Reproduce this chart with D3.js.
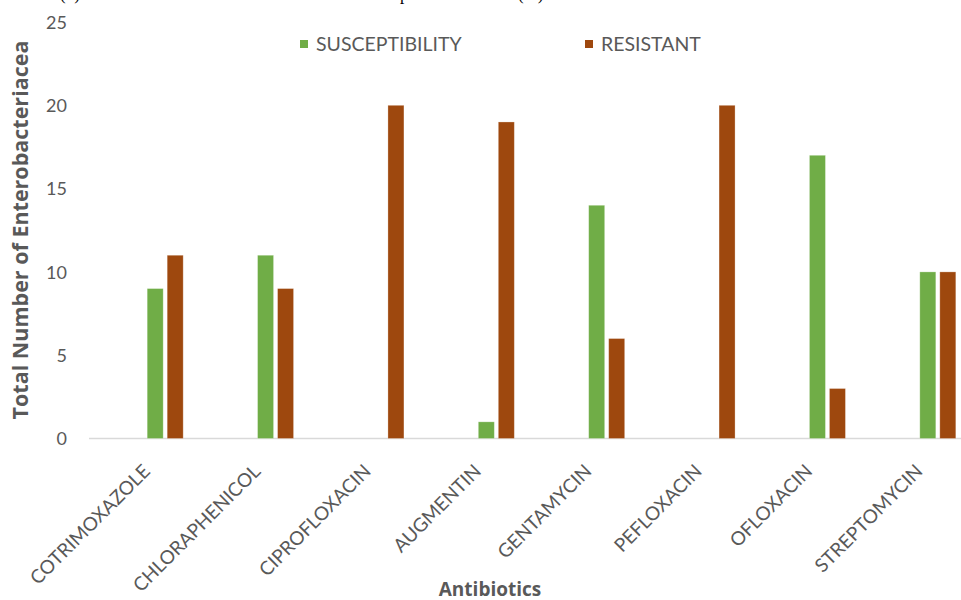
<!DOCTYPE html>
<html>
<head>
<meta charset="utf-8">
<script src="https://cdn.jsdelivr.net/npm/d3@7"></script>
<style>
  html, body { margin: 0; padding: 0; background: #fff; }
  svg { display: block; }
  .lbl { font-family: Lato, "Open Sans", sans-serif; fill: #595959; }
  .ttl { font-family: "Open Sans", Lato, sans-serif; font-weight: 700; fill: #595959; }
  .cap { font-family: "Liberation Serif", "DejaVu Serif", serif; fill: #000; }
</style>
</head>
<body>
<svg id="chart" width="961" height="600"></svg>
<script>
// Antibiotic susceptibility of Enterobacteriaceae isolates
const antibiotics = ["COTRIMOXAZOLE", "CHLORAPHENICOL", "CIPROFLOXACIN", "AUGMENTIN",
                     "GENTAMYCIN", "PEFLOXACIN", "OFLOXACIN", "STREPTOMYCIN"];
const susceptibility = [9, 11, 0, 1, 14, 0, 17, 10];
const resistant      = [11, 9, 20, 19, 6, 20, 3, 10];
const seriesNames = ["SUSCEPTIBILITY", "RESISTANT"];
const seriesColors = ["#70AD47", "#9E480E"];
const yTicks = [0, 5, 10, 15, 20, 25];

const svg = d3.select("#chart");
const W = 961;

const x = d3.scaleBand().domain(antibiotics).range([110, 993]);
const xInner = d3.scaleBand().domain(seriesNames).range([-18, 18]).paddingInner(0.2);
const y = d3.scaleLinear().domain([0, 25]).range([438.5, 22]);

// Caption line above the chart (only its lower edge is in view)
svg.append("text").attr("class", "cap").attr("x", 60).attr("y", 0)
  .attr("font-size", 17).text("(b)");
svg.append("text").attr("class", "cap").attr("x", 400).attr("y", 0)
  .attr("font-size", 17).text("pattern");
svg.append("text").attr("class", "cap").attr("x", 518).attr("y", 0)
  .attr("font-size", 17).text("(%)");

// Y axis tick labels (no line)
const yAxis = d3.axisLeft(y).tickValues(yTicks).tickSize(0).tickPadding(0);
const gy = svg.append("g").attr("transform", "translate(67,0)").call(yAxis);
gy.select(".domain").remove();
gy.selectAll("text").attr("class", "lbl").attr("font-size", 18)
  .attr("font-family", null).attr("fill", null).attr("dy", "0.35em");

// Category baseline
svg.append("line")
  .attr("x1", 89).attr("x2", W)
  .attr("y1", y(0)).attr("y2", y(0))
  .attr("stroke", "#d9d9d9").attr("stroke-width", 1.5);

// Bars
const rows = antibiotics.map((a, i) => ({ a, vals: [susceptibility[i], resistant[i]] }));
const groups = svg.append("g").selectAll("g").data(rows).join("g")
  .attr("transform", d => `translate(${x(d.a) + x.bandwidth() / 2},0)`);
groups.selectAll("rect")
  .data(d => d.vals.map((v, k) => ({ v, k })).filter(e => e.v > 0))
  .join("rect")
  .attr("x", e => xInner(seriesNames[e.k]))
  .attr("width", xInner.bandwidth())
  .attr("y", e => y(e.v))
  .attr("height", e => y(0) - y(e.v))
  .attr("fill", e => seriesColors[e.k])
  .attr("stroke", "rgba(255,255,255,0.35)")
  .attr("stroke-width", 0.8);

// X axis labels, rotated
const xAxis = d3.axisBottom(x).tickSize(0).tickPadding(0);
const gx = svg.append("g").attr("transform", `translate(0,${y(0)})`).call(xAxis);
gx.select(".domain").remove();
gx.selectAll(".tick text")
  .attr("class", "lbl").attr("font-size", 19)
  .attr("font-family", null).attr("fill", null)
  .attr("text-anchor", "end")
  .attr("dy", null).attr("y", null)
  .attr("transform", "translate(-14,34) rotate(-45)");

// Axis titles
svg.append("text").attr("class", "ttl")
  .attr("transform", "translate(28,230) rotate(-90)")
  .attr("text-anchor", "middle").attr("font-size", 21.5)
  .text("Total Number of Enterobacteriacea");
svg.append("text").attr("class", "ttl")
  .attr("x", 490).attr("y", 596)
  .attr("text-anchor", "middle").attr("font-size", 19)
  .text("Antibiotics");

// Legend
const legendX = [300, 585];
const lg = svg.append("g").selectAll("g").data(seriesNames).join("g")
  .attr("transform", (d, i) => `translate(${legendX[i]},40)`);
lg.append("rect").attr("width", 8).attr("height", 8)
  .attr("fill", (d, i) => seriesColors[i]);
lg.append("text").attr("class", "lbl").attr("x", 16).attr("y", 4)
  .attr("dy", "0.35em").attr("font-size", 19.5).text(d => d);
</script>
</body>
</html>
